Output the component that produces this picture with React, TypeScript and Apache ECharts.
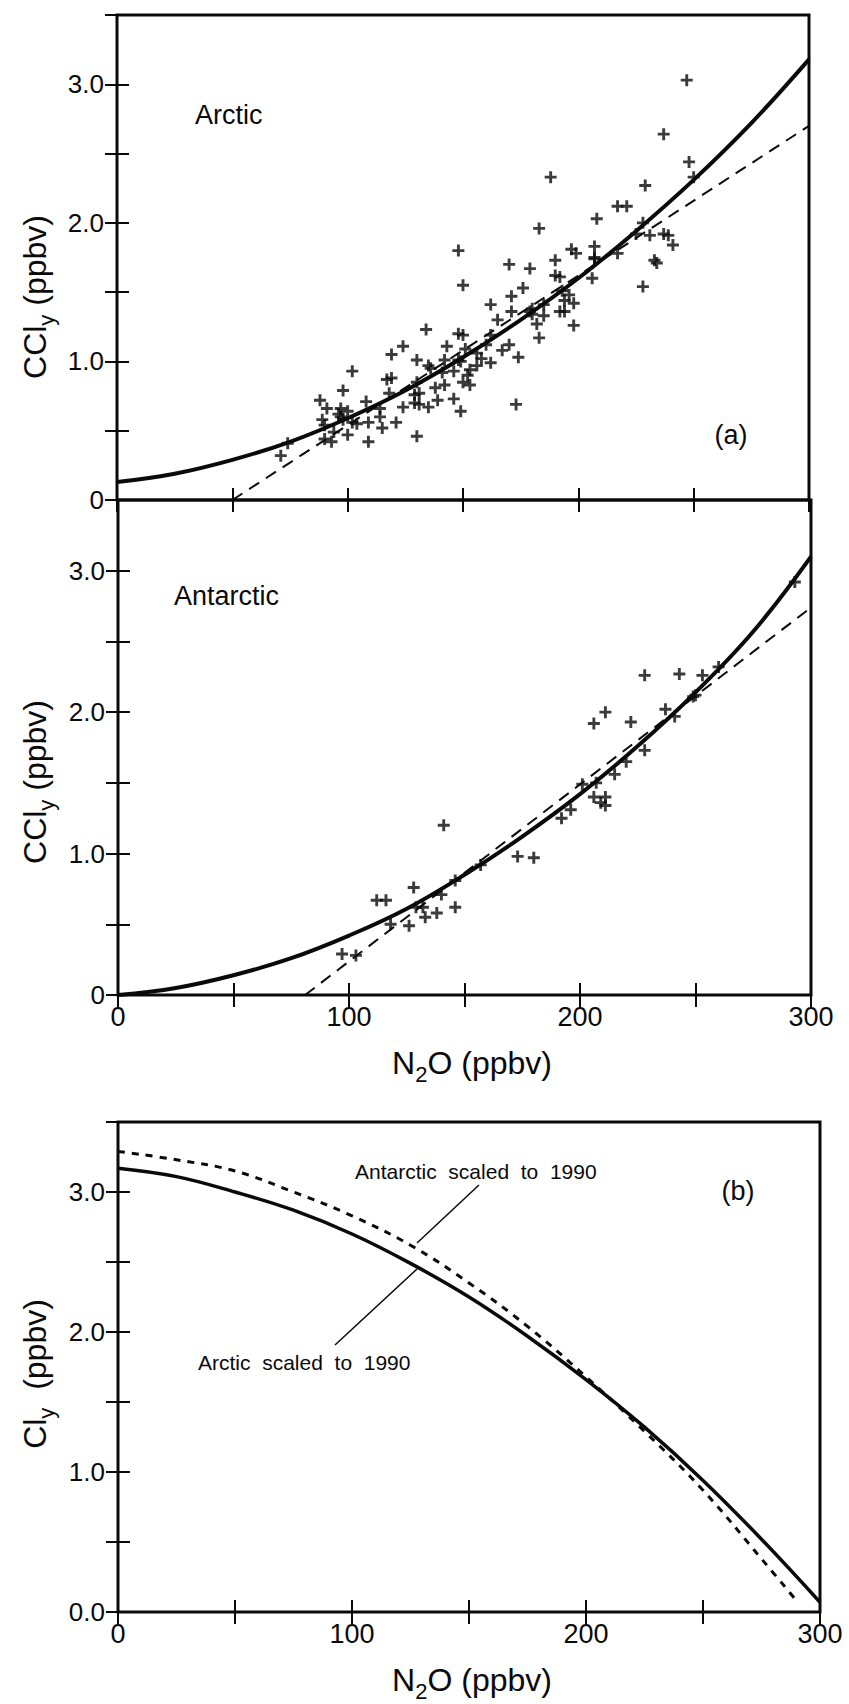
import { useEffect, useRef } from "react";
import * as echarts from "echarts";

// N2O grid (ppbv) on which the fitted curves are tabulated
const N2O_STEPS = [0, 25, 50, 75, 100, 125, 150, 175, 200, 225, 250, 275, 300];

// (a) Arctic: polynomial fit and linear fit of CCly vs N2O
const arcticFitCCly = [0.13, 0.19, 0.29, 0.42, 0.59, 0.79, 1.03, 1.3, 1.6, 1.94, 2.31, 2.72, 3.18];
const arcticLineN2O = [50, 300];
const arcticLineCCly = [0, 2.7];

// (a) Antarctic: polynomial fit and linear fit
const antarcticFitCCly = [0, 0.05, 0.14, 0.26, 0.42, 0.61, 0.85, 1.12, 1.42, 1.76, 2.14, 2.57, 3.1];
const antarcticLineN2O = [81, 300];
const antarcticLineCCly = [0, 2.74];

// (a) Arctic observations
const arcticObsN2O = [
  247, 237, 248, 250, 188, 229, 217, 221, 208, 183, 228, 225, 231, 237, 239, 241, 197, 199, 207, 217,
  233, 234, 207, 190, 148, 170, 179, 206, 190, 192, 228, 150, 176, 193, 196, 194, 171, 162, 198, 180,
  179, 192, 194, 185, 171, 165, 198, 182, 183, 162, 160, 148, 150, 134, 170, 167, 174, 143, 124, 119,
  162, 156, 153, 148, 149, 142, 135, 136, 130, 152, 150, 146, 142, 138, 153, 117, 119, 130, 118, 129,
  131, 146, 139, 129, 131, 135, 124, 149, 173, 114, 102, 98, 88, 91, 97, 100, 96, 108, 114, 109,
  121, 115, 89, 90, 104, 102, 94, 100, 90, 93, 109, 130, 74, 71, 97, 98, 141, 156, 151, 158,
  180, 185, 207,
];
const arcticObsCCly = [
  3.03, 2.64, 2.44, 2.33, 2.33, 2.27, 2.12, 2.12, 2.03, 1.96, 2.0, 1.92, 1.91, 1.92, 1.91, 1.84, 1.81, 1.78, 1.83, 1.78,
  1.73, 1.71, 1.75, 1.73, 1.8, 1.7, 1.67, 1.6, 1.62, 1.61, 1.54, 1.55, 1.53, 1.51, 1.48, 1.44, 1.47, 1.41, 1.42, 1.38,
  1.36, 1.36, 1.36, 1.33, 1.36, 1.3, 1.26, 1.27, 1.17, 1.19, 1.12, 1.2, 1.19, 1.23, 1.12, 1.08, 1.03, 1.11, 1.11, 1.05,
  0.99, 0.97, 0.94, 1.01, 1.0, 1.01, 0.97, 0.95, 1.01, 0.9, 0.85, 0.93, 0.83, 0.81, 0.83, 0.87, 0.88, 0.85, 0.77, 0.76,
  0.77, 0.73, 0.72, 0.7, 0.69, 0.67, 0.67, 0.64, 0.69, 0.66, 0.93, 0.79, 0.72, 0.66, 0.66, 0.64, 0.62, 0.71, 0.6, 0.56,
  0.56, 0.52, 0.58, 0.54, 0.55, 0.56, 0.49, 0.47, 0.44, 0.42, 0.42, 0.46, 0.41, 0.32, 0.6, 0.58, 0.92, 1.06, 1.09, 1.02,
  1.34, 1.41, 1.74,
];

// (a) Antarctic observations
const antarcticObsN2O = [
  293, 260, 253, 228, 243, 249, 250, 237, 241, 222, 206, 211, 228, 220, 215, 207, 201, 206, 211, 209,
  211, 196, 192, 141, 173, 180, 157, 146, 140, 128, 112, 116, 129, 132, 146, 133, 138, 126, 118, 97, 103,
];
const antarcticObsCCly = [
  2.92, 2.32, 2.26, 2.26, 2.27, 2.11, 2.12, 2.02, 1.97, 1.93, 1.92, 2.0, 1.73, 1.65, 1.56, 1.5, 1.49, 1.4, 1.4, 1.36,
  1.34, 1.31, 1.25, 1.2, 0.98, 0.97, 0.92, 0.81, 0.71, 0.76, 0.67, 0.67, 0.62, 0.62, 0.62, 0.55, 0.58, 0.49, 0.5, 0.29, 0.28,
];

// (b) Cly vs N2O scaled to 1990
const arcticCly1990 = [3.17, 3.11, 3.0, 2.87, 2.7, 2.49, 2.25, 1.97, 1.66, 1.32, 0.94, 0.52, 0.07];
const antarcticN2O1990 = [0, 25, 50, 75, 100, 125, 150, 175, 200, 225, 250, 275, 290];
const antarcticCly1990 = [3.29, 3.23, 3.15, 3.0, 2.83, 2.62, 2.35, 2.04, 1.68, 1.29, 0.87, 0.38, 0.08];

// axis ticks
const N2O_TICK_LABELS = [0, 100, 200, 300];
const CCLY_TICK_LABELS = [1, 2, 3];

const INK = "#0a0a0a";
const FONT = "'Liberation Sans', Arial, Helvetica, sans-serif";
const PLUS = "path://M3.8,0H6.2V3.8H10V6.2H6.2V10H3.8V6.2H0V3.8H3.8Z";

const pairs = (xs: number[], ys: number[]) => xs.map((x, i) => [x, ys[i]]);

function xAxisFor(gridIndex: number, position: "top" | "bottom", labels: boolean) {
  return {
    type: "value",
    gridIndex,
    position,
    min: 0,
    max: 300,
    interval: 50,
    axisLine: { show: false },
    splitLine: { show: false },
    axisTick: { show: true, inside: true, length: 12, lineStyle: { color: INK, width: 2 } },
    axisLabel: {
      show: labels,
      showMinLabel: true,
      showMaxLabel: true,
      margin: 8,
      color: INK,
      fontFamily: FONT,
      fontSize: 27,
      formatter: (v: number) => (N2O_TICK_LABELS.includes(v) ? String(v) : ""),
    },
  };
}

function yAxisFor(gridIndex: number, position: "left" | "right", labels: boolean, zeroText: string) {
  return {
    type: "value",
    gridIndex,
    position,
    min: 0,
    max: 3.5,
    interval: 0.5,
    axisLine: { show: false },
    splitLine: { show: false },
    axisTick: { show: true, inside: true, length: 12, lineStyle: { color: INK, width: 2 } },
    axisLabel: {
      show: labels,
      showMinLabel: true,
      margin: 13,
      color: INK,
      fontFamily: FONT,
      fontSize: 26,
      formatter: (v: number) => {
        if (Math.abs(v) < 1e-9) return zeroText;
        const r = Math.round(v);
        return Math.abs(v - r) < 1e-9 && CCLY_TICK_LABELS.includes(r) ? v.toFixed(1) : "";
      },
    },
  };
}

const richTitle = (main1: string, sub: string, main2: string, size: number) => ({
  text: `{m|${main1}}{s|${sub}}{m|${main2}}`,
  rich: {
    m: { fontSize: size, fontFamily: FONT, fill: INK, lineHeight: 44, verticalAlign: "middle" },
    s: { fontSize: Math.round(size * 0.68), fontFamily: FONT, fill: INK, lineHeight: 20, verticalAlign: "bottom" },
  },
});

export default function App() {
  const ref = useRef<HTMLDivElement>(null);

  useEffect(() => {
    if (!ref.current) return;
    const chart = echarts.init(ref.current, undefined, { renderer: "svg" });

    const gridBase = {
      show: true,
      borderColor: INK,
      borderWidth: 3,
      backgroundColor: "transparent",
      containLabel: false,
      outerBoundsMode: "none",
    };

    const solid = (xi: number, data: number[][], width: number) => ({
      type: "line",
      xAxisIndex: xi,
      yAxisIndex: xi,
      data,
      smooth: 0.4,
      showSymbol: false,
      silent: true,
      lineStyle: { color: INK, width },
      z: 3,
    });
    const dashed = (xi: number, data: number[][], width: number, dash: number[], smooth: boolean) => ({
      type: "line",
      xAxisIndex: xi,
      yAxisIndex: xi,
      data,
      smooth: smooth ? 0.4 : false,
      showSymbol: false,
      silent: true,
      lineStyle: { color: INK, width, type: dash },
      z: 3,
    });
    const crosses = (xi: number, data: number[][]) => ({
      type: "scatter",
      xAxisIndex: xi,
      yAxisIndex: xi,
      data,
      symbol: PLUS,
      symbolSize: 12,
      silent: true,
      itemStyle: { color: INK },
      z: 2,
    });

    const text = (x: number, y: number, t: string, size: number, align = "left") => ({
      type: "text",
      x,
      y,
      silent: true,
      style: { text: t, fontSize: size, fontFamily: FONT, fill: INK, align, verticalAlign: "middle" },
    });

    chart.setOption({
      animation: false,
      backgroundColor: "#fff",
      grid: [
        { ...gridBase, left: 117, top: 15, width: 692, height: 485 },
        { ...gridBase, left: 118, top: 500, width: 693, height: 495 },
        { ...gridBase, left: 118, top: 1122, width: 702, height: 490 },
      ],
      xAxis: [
        xAxisFor(0, "bottom", false),
        xAxisFor(1, "bottom", true),
        xAxisFor(2, "bottom", true),
        xAxisFor(0, "top", false),
        xAxisFor(1, "top", false),
        xAxisFor(2, "top", false),
      ],
      yAxis: [
        yAxisFor(0, "left", true, "0"),
        yAxisFor(1, "left", true, "0"),
        yAxisFor(2, "left", true, "0.0"),
        yAxisFor(0, "right", false, ""),
        yAxisFor(1, "right", false, ""),
        yAxisFor(2, "right", false, ""),
      ],
      series: [
        crosses(0, pairs(arcticObsN2O, arcticObsCCly)),
        solid(0, pairs(N2O_STEPS, arcticFitCCly), 4),
        dashed(0, pairs(arcticLineN2O, arcticLineCCly), 2, [12, 8], false),
        crosses(1, pairs(antarcticObsN2O, antarcticObsCCly)),
        solid(1, pairs(N2O_STEPS, antarcticFitCCly), 4),
        dashed(1, pairs(antarcticLineN2O, antarcticLineCCly), 2, [12, 8], false),
        solid(2, pairs(N2O_STEPS, arcticCly1990), 3.5),
        dashed(2, pairs(antarcticN2O1990, antarcticCly1990), 3, [7, 7], true),
      ],
      graphic: [
        text(195, 115, "Arctic", 27),
        text(174, 596, "Antarctic", 27),
        text(731, 435, "(a)", 27, "center"),
        text(738, 1191, "(b)", 27, "center"),
        text(355, 1171, "Antarctic  scaled  to  1990", 21),
        text(198, 1362, "Arctic  scaled  to  1990", 21),
        { type: "line", silent: true, shape: { x1: 479, y1: 1185, x2: 417, y2: 1243 }, style: { stroke: INK, lineWidth: 1.5 } },
        { type: "line", silent: true, shape: { x1: 335, y1: 1345, x2: 417, y2: 1269 }, style: { stroke: INK, lineWidth: 1.5 } },
        {
          type: "text", x: 35, y: 297, rotation: Math.PI / 2, silent: true,
          style: { ...richTitle("CCl", "y", " (ppbv)", 32), align: "center", verticalAlign: "middle" },
        },
        {
          type: "text", x: 35, y: 782, rotation: Math.PI / 2, silent: true,
          style: { ...richTitle("CCl", "y", " (ppbv)", 32), align: "center", verticalAlign: "middle" },
        },
        {
          type: "text", x: 35, y: 1374, rotation: Math.PI / 2, silent: true,
          style: { ...richTitle("Cl", "y", "  (ppbv)", 32), align: "center", verticalAlign: "middle" },
        },
        {
          type: "text", x: 472, y: 1063, silent: true,
          style: { ...richTitle("N", "2", "O (ppbv)", 32), align: "center", verticalAlign: "middle" },
        },
        {
          type: "text", x: 472, y: 1680, silent: true,
          style: { ...richTitle("N", "2", "O (ppbv)", 32), align: "center", verticalAlign: "middle" },
        },
      ],
    });

    return () => chart.dispose();
  }, []);

  return (
    <div
      ref={ref}
      style={{ position: "absolute", left: 0, top: 0, width: 849, height: 1704, background: "#fff" }}
    />
  );
}
